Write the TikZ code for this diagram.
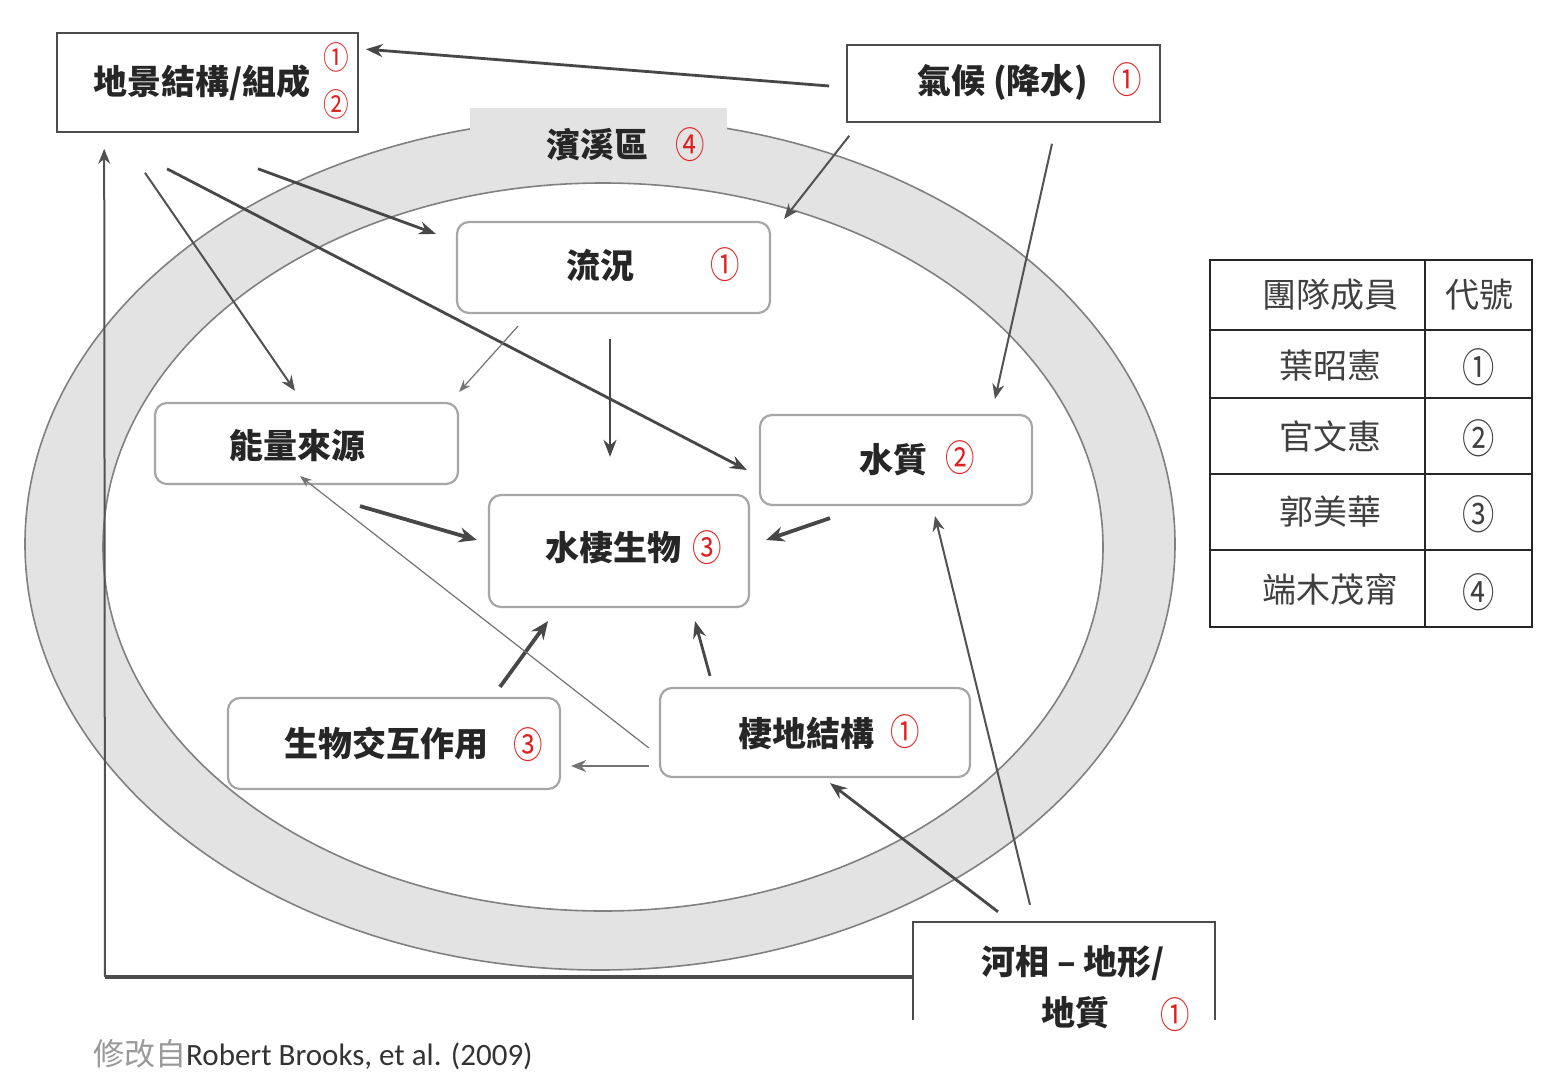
\documentclass[tikz,border=0pt]{standalone}
\usepackage{fontspec}
\setmainfont{Carlito}
\newfontfamily\cjk{Noto Sans CJK TC}
\usetikzlibrary{arrows.meta,calc}
\definecolor{ringgray}{HTML}{E3E3E3}
\definecolor{ringedge}{HTML}{808080}
\definecolor{numred}{HTML}{E02020}
\newcommand{\tallnum}[1]{\scalebox{0.95}[1.18]{#1}}
\tikzset{
  rbox/.style={draw=black!35, line width=2.2pt, rounded corners=12pt, fill=white, inner sep=0pt},
  sbox/.style={draw=black!70, line width=1.6pt, fill=white, inner sep=0pt},
  lab/.style={font=\cjk\bfseries\fontsize{34}{40}\selectfont, text=black!85, inner sep=0pt},
  num/.style={font=\cjk\fontsize{31}{34}\selectfont, text=numred, inner sep=0pt},
  smallnum/.style={num, font=\cjk\fontsize{27}{30}\selectfont},
  tab/.style={font=\cjk\fontsize{34}{38}\selectfont, text=black!75, inner sep=0pt},
  arrthick/.style={draw=black!72, line width=3.8pt, -{Stealth[length=18pt,width=15pt]}},
  arrmid/.style={draw=black!72, line width=2.8pt, -{Stealth[length=17pt,width=13pt]}},
  arrthin/.style={draw=black!68, line width=2pt, -{Stealth[length=15pt,width=12pt]}},
  arrhair/.style={draw=black!55, line width=1.2pt, -{Stealth[length=12pt,width=9pt]}},
}
\begin{document}
\begin{tikzpicture}[x=1pt,y=-1pt]
\useasboundingbox[fill=white] (0,0) rectangle (1556,1079);
% riparian ring
\fill[ringgray, even odd rule] (600,544) ellipse [x radius=575pt, y radius=426pt]
      (603,547) ellipse [x radius=500pt, y radius=364pt];
\draw[ringedge, line width=1.6pt] (600,544) ellipse [x radius=575pt, y radius=426pt];
\draw[ringedge, line width=1.6pt] (603,547) ellipse [x radius=500pt, y radius=364pt];
\node[fill=ringgray, minimum width=257pt, minimum height=74pt, inner sep=0pt] (R) at (598.5,145) {};
\node[lab] (Rt) at (597,145) {濱溪區};
\node[num] (Rn) at (690,145) {\tallnum{④}};

% boxes
\node[sbox, minimum width=301pt, minimum height=99pt] (L) at (207.5,82.5) {};
\node[lab] (Lt) at (202,83) {地景結構/組成};
\node[smallnum] (Ln1) at (336,57) {\tallnum{①}};
\node[smallnum] (Ln2) at (336,104) {\tallnum{②}};

\node[sbox, minimum width=313pt, minimum height=77pt] (C) at (1003.5,83.5) {};
\node[lab] (Ct) at (1003,82) {氣候 (降水)};
\node[num] (Cn) at (1127,80) {\tallnum{①}};

\node[rbox, minimum width=313pt, minimum height=91pt] (F) at (613.5,267.5) {};
\node[lab] (Ft) at (600,265) {流況};
\node[num] (Fn) at (725,265) {\tallnum{①}};

\node[rbox, minimum width=303pt, minimum height=81pt] (E) at (306.5,443.5) {};
\node[lab] (Et) at (297,446) {能量來源};

\node[rbox, minimum width=272pt, minimum height=90pt] (W) at (896,460) {};
\node[lab] (Wt) at (893,460) {水質};
\node[num] (Wn) at (960,458) {\tallnum{②}};

\node[rbox, minimum width=260pt, minimum height=112pt] (B) at (619,551) {};
\node[lab] (Bt) at (613,548) {水棲生物};
\node[num] (Bn) at (707,548) {\tallnum{③}};

\node[rbox, minimum width=332pt, minimum height=91pt] (I) at (394,743.5) {};
\node[lab] (It) at (386,743) {生物交互作用};
\node[num] (In) at (528,745) {\tallnum{③}};

\node[rbox, minimum width=310pt, minimum height=89pt] (H) at (815,732.5) {};
\node[lab] (Ht) at (806,734) {棲地結構};
\node[num] (Hn) at (905,732) {\tallnum{①}};

\node[minimum width=302pt, minimum height=98pt, inner sep=0pt] (G) at (1064,971) {};
\draw[black!70, line width=1.6pt] (G.south west) -- (G.north west) -- (G.north east) -- (G.south east);
\node[lab] (Gt1) at (1073,963) {河相 – 地形/};
\node[lab] (Gt2) at (1075,1013) {地質};
\node[num] (Gn) at (1175,1015) {\tallnum{①}};

% connectors
\draw[arrmid] ($(C.west)+(-17,2.5)$) -- ($(L.north east)+(7,17)$);
\draw[arrthin] ($(C.south west)+(3,13)$) -- ($(F.north east)+(13,-2)$);
\draw[arrthin] ($(C.south)+(48.5,21)$) -- ($(W.north)+(99,-15)$);
\draw[arrmid] ($(L.south)+(50.5,36)$) -- ($(F.north west)+(-20,13)$);
\draw[arrmid] ($(L.south)+(-40.5,36)$) -- ($(W.west)+(-12,10)$);
\draw[arrthin] ($(L.south)+(-62.5,40)$) -- ($(E.north)+(-11.5,-11)$);
\draw[arrhair] ($(F.south)+(-95.5,12)$) -- ($(E.north east)+(0,-10)$);
\draw[arrmid] ($(F.south)+(-3.5,25)$) -- ($(B.north)+(-9,-37)$);
\draw[arrthick] ($(E.south)+(53.5,21)$) -- ($(B.west)+(-11,-11)$);
\draw[arrthick] ($(W.south)+(-66,12)$) -- ($(B.east)+(16,-11)$);
\draw[arrthick] ($(I.north)+(106,-10)$) -- ($(B.south)+(-71,13)$);
\draw[arrmid] ($(H.north)+(-105,-11)$) -- ($(B.south)+(76,13)$);
\draw[arrhair] ($(H.west)+(-10,15.5)$) -- ($(E.south)+(-6.5,-9)$);
\draw[arrthin, draw=black!55] ($(H.west)+(-10,33.5)$) -- ($(I.east)+(10,22.5)$);
\draw[arrmid] ($(G.north)+(-66,-10)$) -- ($(H.south)+(15,5)$);
\draw[arrthin] ($(G.north)+(-34,-17)$) -- ($(W.south)+(39,10)$);
\coordinate (K) at (105,977);
\draw[black!70, line width=4pt] ($(G.west)+(0,6)$) -- (K);
\draw[arrthin] (K) -- ($(L.south west)+(48,16)$);

% table
\draw[black!85, line width=1.8pt] (1210,260) rectangle (1532,627);
\draw[black!85, line width=1.8pt] (1425,260) -- (1425,627);
\foreach \yy in {330,398,474,550} \draw[black!85, line width=1.8pt] (1210,\yy) -- (1532,\yy);
\node[tab] (t11) at (1330,295) {團隊成員};
\node[tab] (t12) at (1479,295) {代號};
\node[tab] (t21) at (1330,365) {葉昭憲};
\node[tab] (t22) at (1479,367) {\tallnum{①}};
\node[tab] (t31) at (1330,436) {官文惠};
\node[tab] (t32) at (1479,438) {\tallnum{②}};
\node[tab] (t41) at (1330,512) {郭美華};
\node[tab] (t42) at (1479,514) {\tallnum{③}};
\node[tab] (t51) at (1330,590) {端木茂甯};
\node[tab] (t52) at (1479,592) {\tallnum{④}};

% caption
\node[anchor=west, inner sep=0pt, font=\fontsize{31}{34}\selectfont] (cap) at (93,1055)
  {{\cjk\color{black!40}修改自}{\color{black!80}Robert Brooks, et al. (2009)}};
\end{tikzpicture}
\end{document}
